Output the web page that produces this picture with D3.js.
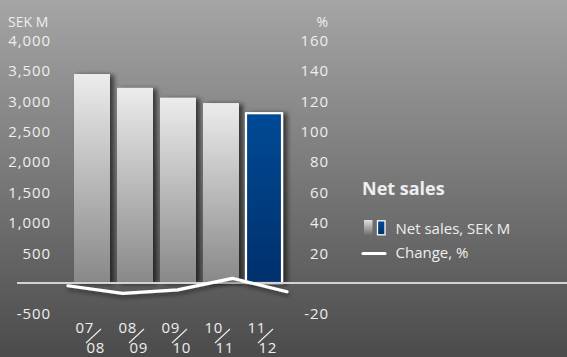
<!DOCTYPE html>
<html>
<head>
<meta charset="utf-8">
<script src="https://cdn.jsdelivr.net/npm/d3@7"></script>
<style>
  html, body { margin: 0; padding: 0; background: #777; }
  svg { display: block; }
  text { font-family: "Open Sans", "Noto Sans", sans-serif; fill: #eeeeee; }
</style>
</head>
<body>
<svg id="chart" width="567" height="357"></svg>
<script>
// Net sales per financial year (SEK M) and year-on-year change (%)
const periods = ["07/08", "08/09", "09/10", "10/11", "11/12"];
const netSales = [3440, 3212, 3050, 2962, 2795];
const changePct = [-1.8, -6.8, -4.5, 3.1, -5.7];
const salesTicks = [-500, 500, 1000, 1500, 2000, 2500, 3000, 3500, 4000];
const pctTicks = [-20, 20, 40, 60, 80, 100, 120, 140, 160];

const W = 567, H = 357;
const svg = d3.select("#chart");
const defs = svg.append("defs");

// background gradient
const bg = defs.append("linearGradient").attr("id", "bg").attr("x1", 0).attr("y1", 0).attr("x2", 0).attr("y2", 1);
bg.append("stop").attr("offset", "0%").attr("stop-color", "#a5a5a5");
bg.append("stop").attr("offset", "100%").attr("stop-color", "#4b4b4b");

const barGrad = defs.append("linearGradient").attr("id", "barGray").attr("x1", 0).attr("y1", 0).attr("x2", 0).attr("y2", 1);
barGrad.append("stop").attr("offset", "0%").attr("stop-color", "#ececec");
barGrad.append("stop").attr("offset", "100%").attr("stop-color", "#888888");

const blueGrad = defs.append("linearGradient").attr("id", "barBlue").attr("x1", 0).attr("y1", 0).attr("x2", 0).attr("y2", 1);
blueGrad.append("stop").attr("offset", "0%").attr("stop-color", "#004a96");
blueGrad.append("stop").attr("offset", "100%").attr("stop-color", "#00306c");

const legGray = defs.append("linearGradient").attr("id", "legGray").attr("x1", 0).attr("y1", 0).attr("x2", 0).attr("y2", 1);
legGray.append("stop").attr("offset", "0%").attr("stop-color", "#e0e0e0");
legGray.append("stop").attr("offset", "100%").attr("stop-color", "#6a6a6a");

const shadow = defs.append("filter").attr("id", "shadow").attr("x", "-20%").attr("y", "-20%").attr("width", "160%").attr("height", "160%");
shadow.append("feDropShadow").attr("dx", 4).attr("dy", 1).attr("stdDeviation", 2.5)
  .attr("flood-color", "#000").attr("flood-opacity", 0.6);

const lineShadow = defs.append("filter").attr("id", "lineShadow").attr("x", "-10%").attr("y", "-100%").attr("width", "120%").attr("height", "300%");
lineShadow.append("feDropShadow").attr("dx", 1).attr("dy", 3).attr("stdDeviation", 2)
  .attr("flood-color", "#000").attr("flood-opacity", 0.45);

svg.append("rect").attr("width", W).attr("height", H).attr("fill", "url(#bg)");

// scales
const x = d3.scaleBand().domain(periods).range([70.5, 285.5]).paddingInner(7 / 43).paddingOuter(7 / 86);
const xLine = d3.scalePoint().domain(periods).range([68, 287]);
const ySales = d3.scaleLinear().domain([-500, 4000]).range([313.4, 40]);
const yPct = d3.scaleLinear().domain([-20, 160]).range([313.4, 40]);

// axes (labels only)
const hyphen = f => d => (d < 0 ? "-" : "") + f(Math.abs(d));
function styleAxis(g) {
  g.select(".domain").remove();
  g.selectAll(".tick line").remove();
  g.selectAll(".tick text")
    .attr("fill", "#eeeeee")
    .style("font-family", '"Open Sans", "Noto Sans", sans-serif')
    .style("font-size", "15px")
    .style("letter-spacing", "0.9px")
    .attr("dy", "0.36em");
}
svg.append("g").attr("transform", "translate(51,0)")
  .call(d3.axisLeft(ySales).tickValues(salesTicks).tickSize(0).tickPadding(0).tickFormat(hyphen(d3.format(","))))
  .call(styleAxis);
svg.append("g").attr("transform", "translate(329,0)")
  .call(d3.axisLeft(yPct).tickValues(pctTicks).tickSize(0).tickPadding(0).tickFormat(hyphen(d3.format("d"))))
  .call(styleAxis);

svg.append("text").attr("x", 8).attr("y", 27).style("font-size", "14px").text("SEK M");
svg.append("text").attr("x", 328).attr("y", 27).attr("text-anchor", "end").style("font-size", "14px").text("%");

// bars
const last = periods[periods.length - 1];
svg.append("g").selectAll("rect").data(periods).join("rect")
  .attr("x", d => x(d))
  .attr("y", (d, i) => ySales(netSales[i]))
  .attr("width", x.bandwidth())
  .attr("height", (d, i) => ySales(0) - ySales(netSales[i]))
  .attr("fill", d => d === last ? "url(#barBlue)" : "url(#barGray)")
  .attr("stroke", d => d === last ? "#ffffff" : "none")
  .attr("stroke-width", 2.2)
  .attr("filter", "url(#shadow)");

// zero line
svg.append("line").attr("x1", 17).attr("x2", W).attr("y1", ySales(0)).attr("y2", ySales(0))
  .attr("stroke", "#d4d4d4").attr("stroke-width", 1.8);

// change line
const line = d3.line().x((d, i) => xLine(periods[i])).y(d => yPct(d));
svg.append("path").datum(changePct).attr("d", line)
  .attr("fill", "none").attr("stroke", "#ffffff").attr("stroke-width", 3.2)
  .attr("stroke-linecap", "round").attr("stroke-linejoin", "round")
  .attr("filter", "url(#lineShadow)");

// category labels as stacked "yy / yy"
const cat = svg.append("g").selectAll("g").data(periods).join("g")
  .attr("transform", d => `translate(${x(d) + x.bandwidth() / 2},0)`);
cat.append("text").attr("x", -16.5).attr("y", 333).style("font-size", "15px").style("letter-spacing", "0.6px")
  .text(d => d.split("/")[0]);
cat.append("line").attr("x1", -6).attr("y1", 343).attr("x2", 9).attr("y2", 329)
  .attr("stroke", "#eeeeee").attr("stroke-width", 1.1);
cat.append("text").attr("x", -5.5).attr("y", 352.5).style("font-size", "15px").style("letter-spacing", "0.6px")
  .text(d => d.split("/")[1]);

// legend
const leg = svg.append("g");
leg.append("text").attr("x", 362).attr("y", 195).style("font-size", "18px").style("font-weight", "bold").text("Net sales");
leg.append("rect").attr("x", 364).attr("y", 220).attr("width", 8.5).attr("height", 15.5).attr("fill", "url(#legGray)");
leg.append("rect").attr("x", 377.5).attr("y", 220.8).attr("width", 7.5).attr("height", 14).attr("fill", "url(#barBlue)")
  .attr("stroke", "#ffffff").attr("stroke-width", 1.3);
leg.append("text").attr("x", 395.5).attr("y", 234).style("font-size", "15px").text("Net sales, SEK M");
leg.append("line").attr("x1", 363).attr("x2", 385).attr("y1", 253.5).attr("y2", 253.5)
  .attr("stroke", "#ffffff").attr("stroke-width", 3.2).attr("stroke-linecap", "round");
leg.append("text").attr("x", 395.5).attr("y", 258).style("font-size", "15px").text("Change, %");
</script>
</body>
</html>
